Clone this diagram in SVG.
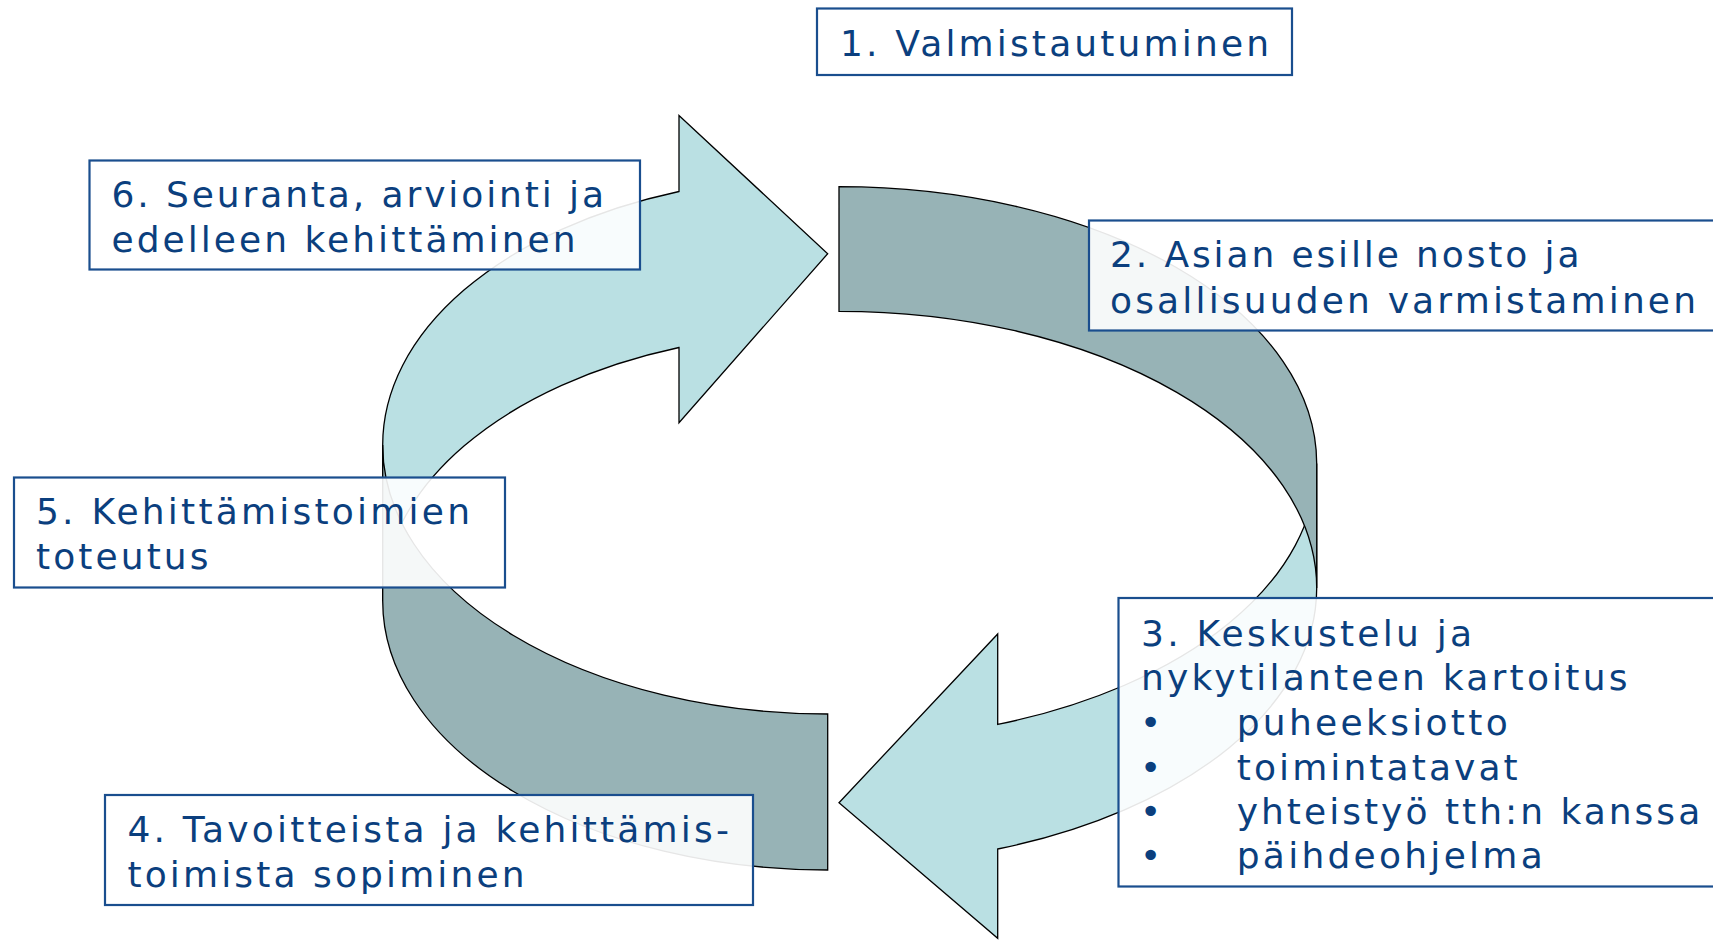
<svg xmlns="http://www.w3.org/2000/svg" width="1713" height="940" viewBox="0 0 1713 940">
  <style>
    .light { fill: #bae0e3; stroke: #000; stroke-width: 1.3; stroke-linejoin: miter; }
    .dark { fill: #97b3b6; stroke: #000; stroke-width: 1.3; stroke-linejoin: miter; }
    .box { fill: #ffffff; fill-opacity: 0.9; stroke: #1a4e8e; stroke-width: 2.2; }
    .t { font-family: "DejaVu Sans", Verdana, sans-serif; font-size: 36px; fill: #0b3f7e; }
  </style>
  <rect x="0" y="0" width="1713" height="940" fill="#ffffff"/>

  <g id="connectors">
    <g id="arrow-left">
      <path class="light" d="M 679 191.5 L 679 115.5 L 827.7 253.7 L 679 422.7 L 679 347.5 A 445 269 0 0 0 382.7 601 L 382.7 445 A 445 269 0 0 1 679 191.5 Z"/>
      <path class="dark" d="M 382.7 445 A 445 269 0 0 0 827.7 714 L 827.7 870 A 445 269 0 0 1 382.7 601 Z"/>
    </g>
    <g id="arrow-right">
      <path class="light" d="M 1316.7 463.4 A 477.7 276.7 0 0 1 997.7 724.4 L 997.7 634 L 839 802.7 L 997.7 938.3 L 997.7 849 A 477.7 276.7 0 0 0 1316.7 588 Z"/>
      <path class="dark" d="M 839 186.7 A 477.7 276.7 0 0 1 1316.7 463.4 L 1316.7 588 A 477.7 276.7 0 0 0 839 311.3 Z"/>
    </g>
  </g>

  <g id="node1">
    <rect class="box" x="817" y="8.5" width="475" height="66.5"/>
    <text class="t" x="840" y="56" textLength="429" lengthAdjust="spacing">1. Valmistautuminen</text>
  </g>

  <g id="node2">
    <rect class="box" x="1089" y="220.5" width="700" height="110"/>
    <text class="t" x="1110" y="267" textLength="469.5" lengthAdjust="spacing">2. Asian esille nosto ja</text>
    <text class="t" x="1110" y="312.5" textLength="586" lengthAdjust="spacing">osallisuuden varmistaminen</text>
  </g>

  <g id="node3">
    <rect class="box" x="1118.5" y="598" width="700" height="288.5"/>
    <text class="t" x="1141" y="645.5" textLength="331" lengthAdjust="spacing">3. Keskustelu ja</text>
    <text class="t" x="1141" y="690" textLength="486.5" lengthAdjust="spacing">nykytilanteen kartoitus</text>
    <text class="t" x="1140" y="735">•</text>
    <text class="t" x="1236.7" y="735" textLength="271" lengthAdjust="spacing">puheeksiotto</text>
    <text class="t" x="1140" y="779.5">•</text>
    <text class="t" x="1236.7" y="779.5" textLength="281" lengthAdjust="spacing">toimintatavat</text>
    <text class="t" x="1140" y="823.5">•</text>
    <text class="t" x="1236.7" y="823.5" textLength="463.5" lengthAdjust="spacing">yhteistyö tth:n kanssa</text>
    <text class="t" x="1140" y="868">•</text>
    <text class="t" x="1236.7" y="868" textLength="306" lengthAdjust="spacing">päihdeohjelma</text>
  </g>

  <g id="node4">
    <rect class="box" x="105" y="795" width="648" height="110"/>
    <text class="t" x="127.5" y="842" textLength="601.5" lengthAdjust="spacing">4. Tavoitteista ja kehittämis-</text>
    <text class="t" x="127.5" y="887" textLength="397" lengthAdjust="spacing">toimista sopiminen</text>
  </g>

  <g id="node5">
    <rect class="box" x="14" y="477.5" width="491" height="110"/>
    <text class="t" x="36" y="524" textLength="434" lengthAdjust="spacing">5. Kehittämistoimien</text>
    <text class="t" x="36" y="569" textLength="172.5" lengthAdjust="spacing">toteutus</text>
  </g>

  <g id="node6">
    <rect class="box" x="89.5" y="160.5" width="550.5" height="109"/>
    <text class="t" x="111.5" y="207" textLength="492.5" lengthAdjust="spacing">6. Seuranta, arviointi ja</text>
    <text class="t" x="111.5" y="252" textLength="464" lengthAdjust="spacing">edelleen kehittäminen</text>
  </g>
</svg>
